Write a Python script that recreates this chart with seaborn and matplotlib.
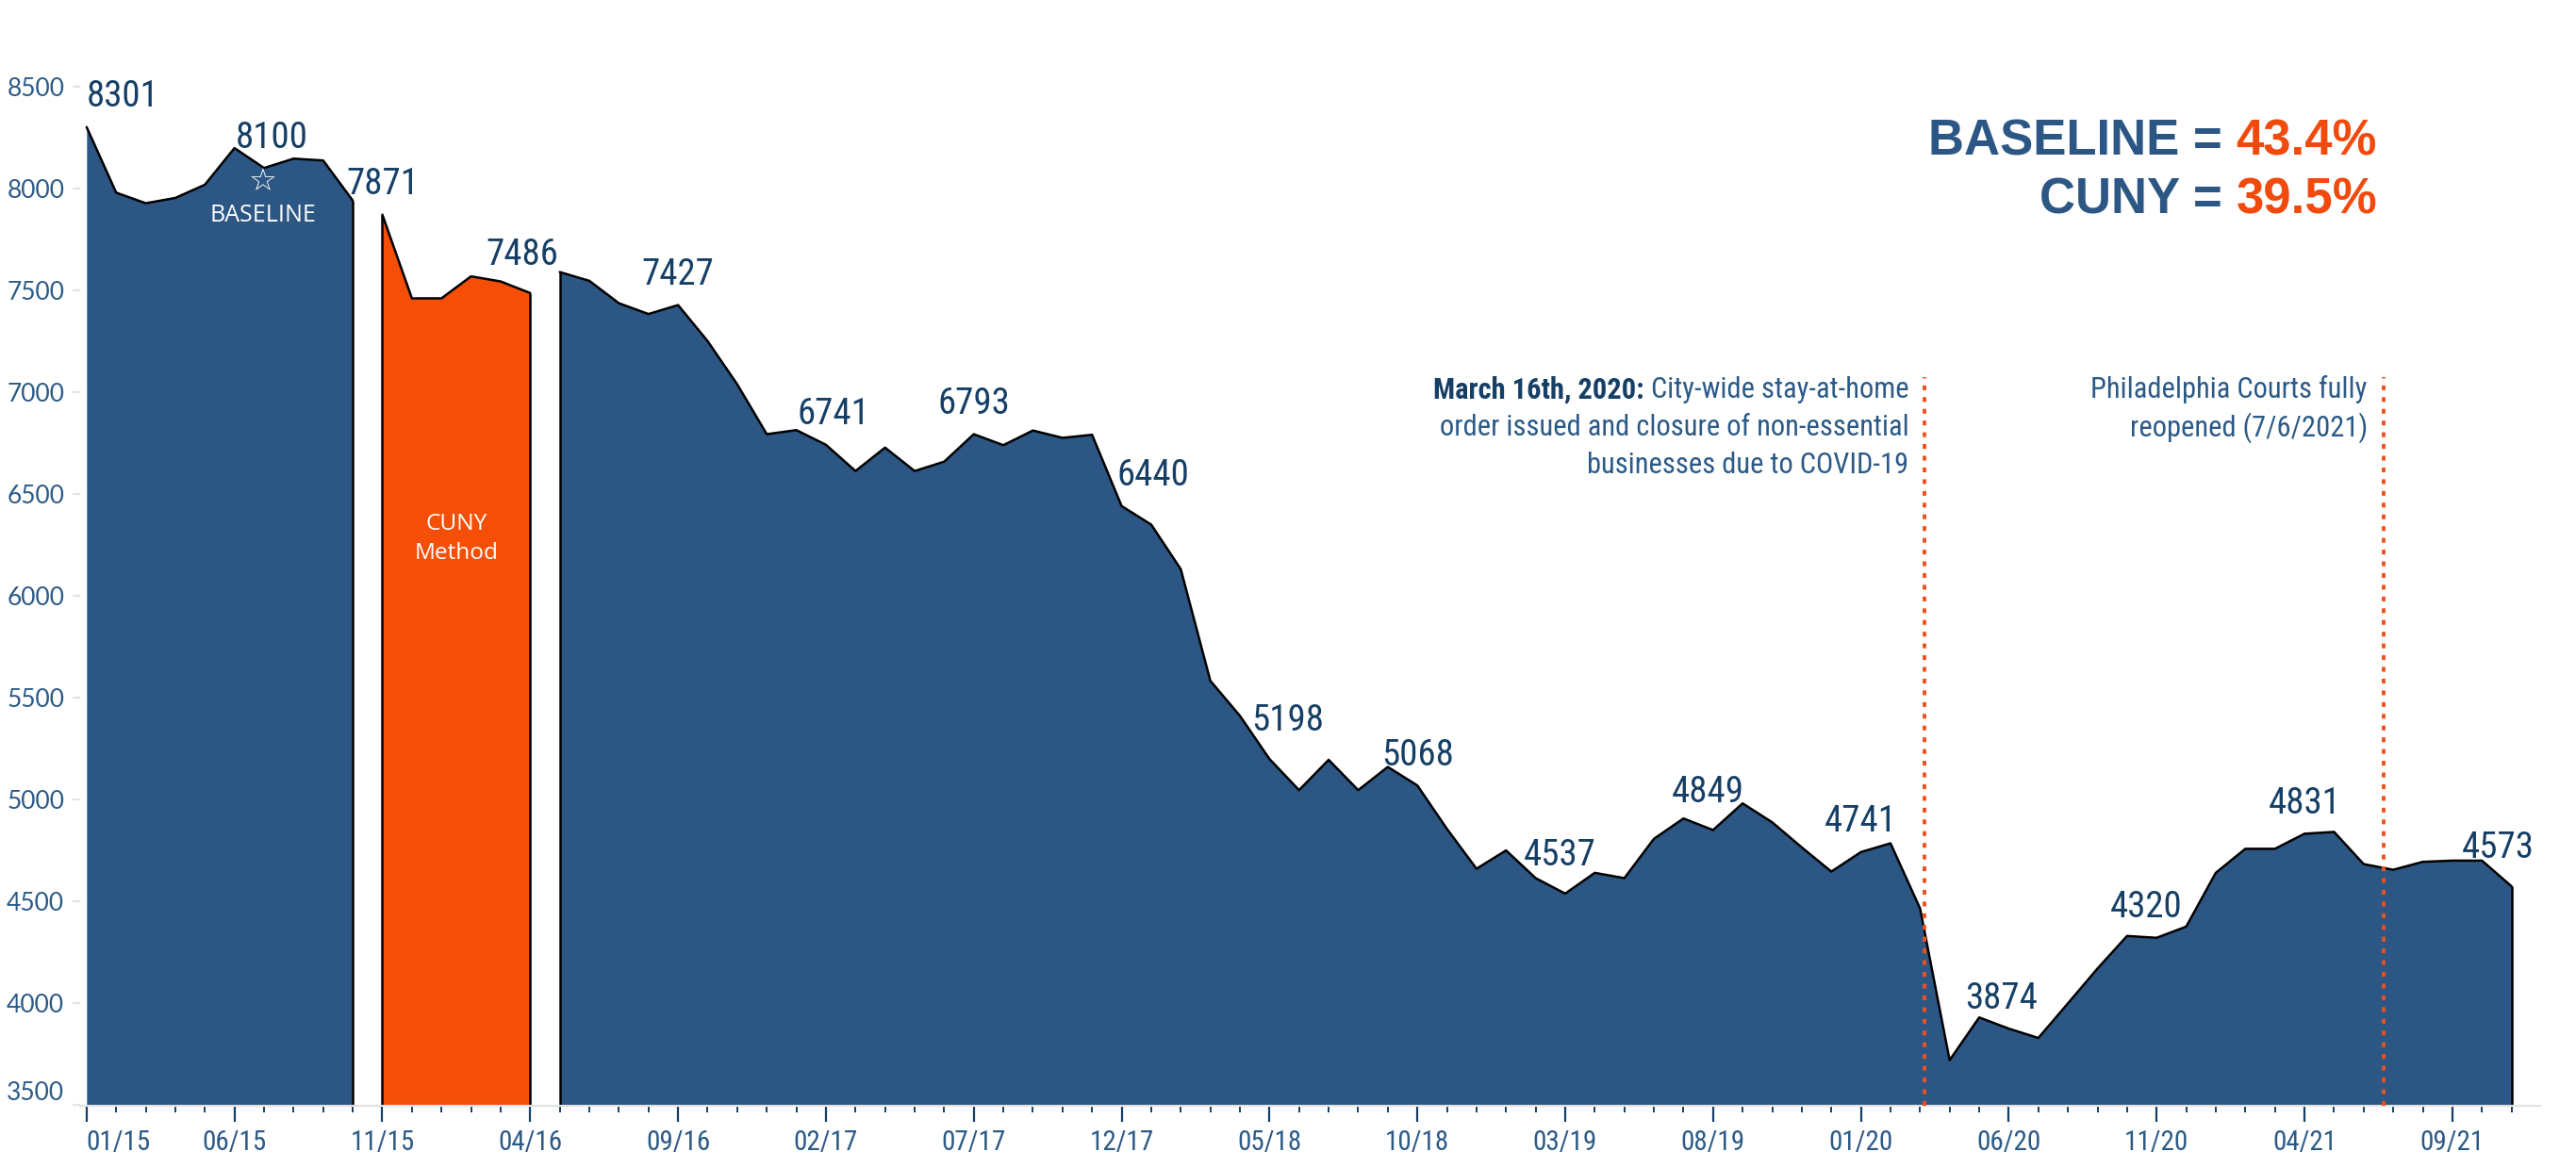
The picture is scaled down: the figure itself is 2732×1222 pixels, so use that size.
import numpy as np
import pandas as pd
import matplotlib
matplotlib.use('Agg')
import matplotlib.pyplot as plt
from matplotlib import font_manager
import seaborn as sns

# monthly counts, 01/2015 .. 11/2021
months = pd.date_range('2015-01-01', '2021-11-01', freq='MS')
counts = [8301, 7979, 7927, 7953, 8018, 8198, 8100, 8146, 8137, 7940,
          7871, 7460, 7460, 7568, 7543, 7486,
          7589, 7546, 7436, 7383, 7427, 7250, 7038, 6793, 6813, 6741,
          6612, 6727, 6612, 6658, 6793, 6739, 6811, 6775, 6790, 6440,
          6349, 6130, 5582, 5410, 5198, 5045, 5194, 5045, 5159, 5068,
          4855, 4659, 4749, 4613, 4537, 4639, 4613, 4806, 4906, 4849,
          4980, 4887, 4764, 4645, 4741, 4784, 4464, 3719, 3929, 3874,
          3828, 3998, 4169, 4329, 4320, 4375, 4639, 4757, 4757, 4831,
          4840, 4682, 4654, 4693, 4699, 4699, 4573]
period = ['baseline'] * 10 + ['cuny'] * 6 + ['after'] * 67
labelled = [0, 6, 10, 15, 20, 25, 30, 35, 40, 45, 50, 55, 60, 65, 70, 75, 82]
events = ['2020-03-07', '2021-06-22']   # where the dotted lines sit on the month axis
event_text = [['City-wide stay-at-home', 'order issued and closure of non-essential',
               'businesses due to COVID-19'],
              ['Philadelphia Courts fully', 'reopened (7/6/2021)']]
summary = [('BASELINE = ', '43.4%'), ('CUNY = ', '39.5%')]

df = pd.DataFrame({'month': months, 'count': counts, 'period': period})
df['idx'] = np.arange(len(df))

BLUE = '#2C5784'
ORANGE = '#F54F07'
NAVY = '#163F66'
TICK = '#2B5A87'
DOT = '#F0501E'

sns.set_theme(style='white')
names = {f.name for f in font_manager.fontManager.ttflist}
NARROW = next((n for n in ['Liberation Sans Narrow', 'Roboto Condensed', 'Open Sans Condensed',
                           'PT Sans Narrow', 'Archivo Narrow'] if n in names), 'Roboto')
plt.rcParams['font.family'] = [NARROW, 'DejaVu Sans']

fig = plt.figure(figsize=(13.66, 6.11), dpi=200)
ax = fig.add_axes([0.0311, 0.0401, 0.955, 0.9599])

for seg, g in df.groupby('period', sort=False):
    col = ORANGE if seg == 'cuny' else BLUE
    ax.fill_between(g['idx'], g['count'], 3000, facecolor=col, linewidth=0, zorder=1)
    sns.lineplot(data=g, x='idx', y='count', color='black', linewidth=0.9, ax=ax, zorder=2)
    first, last = g.iloc[0], g.iloc[-1]
    if first['idx'] > 0:
        ax.vlines(first['idx'], 3000, first['count'], color='black', lw=0.9, zorder=2)
    ax.vlines(last['idx'], 3000, last['count'], color='black', lw=0.9, zorder=2)

ax.set_xlim(-0.22, 82.97)
ax.set_ylim(3495, 8925)

# value labels (small nudges where the label would sit on the line)
nudge = {6: (3, 0), 15: (-3, 3), 25: (3, 0), 35: (12, 0), 40: (7, 3), 50: (-2, 3),
         55: (-2, 3), 65: (-3, 0), 70: (-4, 0), 82: (-5, 3)}
for i in labelled:
    dx, dy = nudge.get(i, (0, 0))
    ax.annotate(f'{counts[i]}', (i, counts[i]), xytext=(dx, 11.5 + dy),
                textcoords='offset points', ha='left' if i == 0 else 'center',
                va='center', fontsize=14, color=NAVY, zorder=5)

# baseline marker
ax.annotate('\u2606', (6, counts[6]), xytext=(-0.5, -5.5), textcoords='offset points',
            ha='center', va='center', fontsize=12, color='white', family='DejaVu Sans')
ax.annotate('BASELINE', (6, counts[6]), xytext=(-0.5, -18), textcoords='offset points',
            ha='center', va='center', fontsize=9, color='white', family='Open Sans')
cuny = df[df['period'] == 'cuny']
ax.text(cuny['idx'].mean(), 6280, 'CUNY\nMethod', ha='center', va='center',
        fontsize=8.8, color='white', family='Open Sans', linespacing=1.35)

# event lines
ev_x = [(pd.Timestamp(d) - months[0]).days / 30.44 for d in events]
for x, lines in zip(ev_x, event_text):
    ax.vlines(x, 3495, 7075, color=DOT, lw=1.4, linestyles=(0, (1.3, 1.9)), zorder=3)
    for k, line in enumerate(lines):
        t = ax.annotate(line, (x, 7011), xytext=(-6, -14.4 * k), textcoords='offset points',
                        ha='right', va='center', fontsize=11, color=TICK)
        if k == 0 and x < 70:
            t.set_text(' ' + line)
            ax.annotate('March 16th, 2020:', xy=(0, 0.5), xycoords=t, ha='right',
                        va='center', fontsize=11, color=NAVY, fontweight='bold')

# headline numbers
for k, (lab, val) in enumerate(summary):
    t = fig.text(0.9228, 0.877 - 0.051 * k, val, ha='right', va='center', fontsize=19,
                 color='#F2490C', fontweight='bold', family='Liberation Sans')
    ax.annotate(lab, xy=(0, 0.5), xycoords=t, ha='right', va='center', fontsize=19,
                color=BLUE, fontweight='bold', family='Liberation Sans')

# axes styling
ax.set_xticks(df['idx'][::5])
ax.set_xticklabels(df['month'].dt.strftime('%m/%y')[::5])
ax.set_xticks(df['idx'], minor=True)
ax.get_xticklabels()[0].set_ha('left')
ax.tick_params(axis='x', which='major', bottom=True, length=6, width=0.8, color=NAVY,
               pad=3, labelsize=10.5, labelcolor=TICK)
ax.tick_params(axis='x', which='minor', bottom=True, length=2.5, width=0.7, color=NAVY)
ax.set_yticks(range(3500, 9000, 500))
ax.tick_params(axis='y', left=True, length=3, width=0.8, color='#e4e4e4', pad=3,
               labelsize=9.5, labelcolor=TICK)
for lab in ax.get_yticklabels():
    lab.set_family('Lato')
ax.get_yticklabels()[0].set_va('bottom')
ax.set_xlabel('')
ax.set_ylabel('')
for s in ['top', 'right', 'left']:
    ax.spines[s].set_visible(False)
ax.spines['bottom'].set_color('#e2e2e2')
ax.spines['bottom'].set_linewidth(0.8)

fig.savefig('out.png', dpi=200)
